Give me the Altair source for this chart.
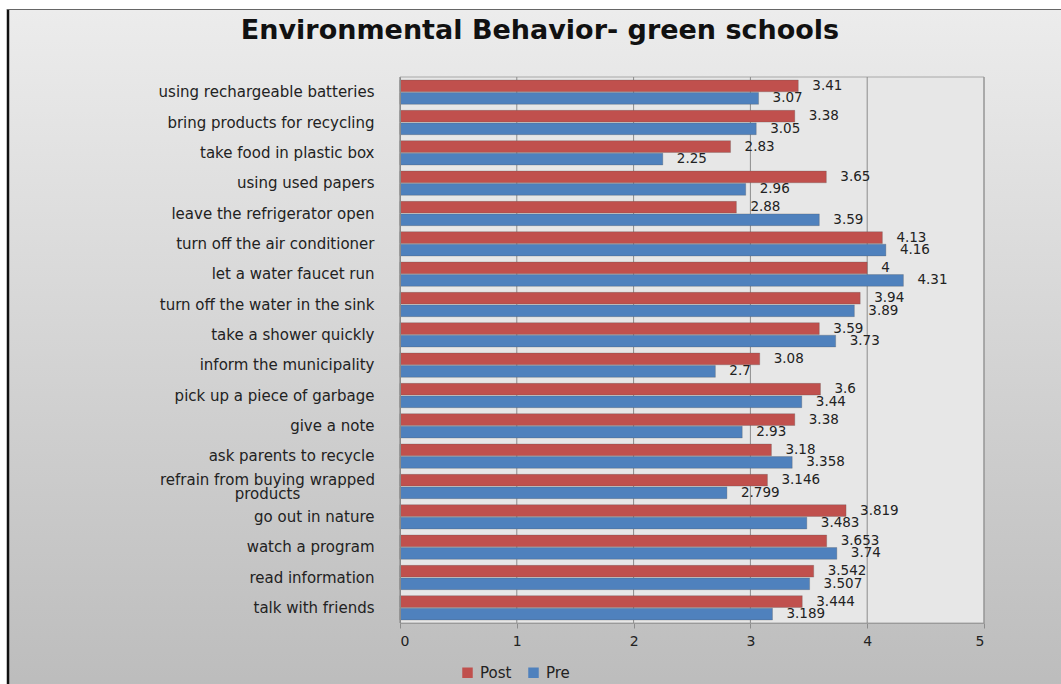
import altair as alt
import pandas as pd

categories = [
    "using rechargeable batteries",
    "bring products for recycling",
    "take food in plastic box",
    "using used papers",
    "leave the refrigerator open",
    "turn off the air conditioner",
    "let a water faucet run",
    "turn off the water in the sink",
    "take a shower quickly",
    "inform the municipality",
    "pick up a piece of garbage",
    "give a note",
    "ask parents to recycle",
    "refrain from buying wrapped products",
    "go out in nature",
    "watch a program",
    "read information",
    "talk with friends",
]
post = [3.41, 3.38, 2.83, 3.65, 2.88, 4.13, 4, 3.94, 3.59, 3.08, 3.6, 3.38, 3.18, 3.146, 3.819, 3.653, 3.542, 3.444]
pre = [3.07, 3.05, 2.25, 2.96, 3.59, 4.16, 4.31, 3.89, 3.73, 2.7, 3.44, 2.93, 3.358, 2.799, 3.483, 3.74, 3.507, 3.189]
series = ["Post", "Pre"]
colors = ["#C0504D", "#4F81BD"]
x_ticks = [0, 1, 2, 3, 4, 5]
title_text = "Environmental Behavior- green schools"

rows = []
for c, p, q in zip(categories, post, pre):
    rows.append({"cat": c, "series": "Post", "value": p})
    rows.append({"cat": c, "series": "Pre", "value": q})
df = pd.DataFrame(rows)
ticks_df = pd.DataFrame({"tick": x_ticks})
title_df = pd.DataFrame({"t": [title_text]})
one = pd.DataFrame({"k": [0]})

W, H = 584, 546
PL, PT = 400, 77
FONT = "DejaVu Sans"
WRAP = "refrain from buying wrapped products"
IS_WRAP = f"datum.value == '{WRAP}'"

y_enc = alt.Y(
    "cat:N",
    sort=categories,
    scale=alt.Scale(paddingInner=0.2, paddingOuter=0.1),
    axis=alt.Axis(
        title=None,
        ticks=False,
        labelPadding={"condition": {"test": IS_WRAP, "value": 133}, "value": 26},
        labelAlign={"condition": {"test": IS_WRAP, "value": "center"}, "value": "right"},
        labelFontSize=15,
        labelFont=FONT,
        labelColor="#222222",
        domainColor="#8a8a8a",
        labelLimit=400,
        labelLineHeight=14,
        labelOffset={"condition": {"test": IS_WRAP, "value": -7}, "value": 0},
        labelExpr=f"{IS_WRAP} ? ['refrain from buying wrapped', 'products'] : datum.value",
        zindex=2,
    ),
)
yoff_enc = alt.YOffset("series:N", sort=series, scale=alt.Scale(paddingInner=0.06))
x_scale = alt.Scale(domain=[0, 5], nice=False)
x_enc = alt.X(
    "value:Q",
    scale=x_scale,
    axis=alt.Axis(
        title=None,
        values=x_ticks,
        format="d",
        grid=False,
        tickColor="#8c8c8c",
        tickSize=5,
        domainColor="#9a9a9a",
        labelFontSize=14,
        labelFont=FONT,
        labelColor="#222222",
        labelPadding=6,
        zindex=2,
    ),
)
color_enc = alt.Color(
    "series:N",
    sort=series,
    scale=alt.Scale(domain=series, range=colors),
    legend=alt.Legend(
        title=None,
        orient="none",
        direction="horizontal",
        legendX=60,
        legendY=588,
        symbolType="square",
        symbolSize=110,
        symbolStrokeWidth=0,
        labelFontSize=15,
        labelFont=FONT,
        labelColor="#222222",
        columnPadding=14,
        labelOffset=5,
        zindex=2,
    ),
)

# chart-area background with gradient and border
bg = alt.Chart(one).mark_rect(
    color=alt.Gradient(
        gradient="linear",
        stops=[alt.GradientStop(color="#ececec", offset=0), alt.GradientStop(color="#bcbcbc", offset=1)],
        x1=0, x2=0, y1=0, y2=1,
    ),
).encode(
    x=alt.value(-PL + 8), x2=alt.value(W + 100), y=alt.value(-PT + 10), y2=alt.value(H + 70)
)
border_left = alt.Chart(one).mark_rule(color="#111111", strokeWidth=2.5).encode(
    x=alt.value(-PL + 8), y=alt.value(-PT + 9), y2=alt.value(H + 70)
)
border_top = alt.Chart(one).mark_rule(color="#666666", strokeWidth=1.2).encode(
    x=alt.value(-PL + 7), x2=alt.value(W + 100), y=alt.value(-PT + 9.5)
)
plot_bg = alt.Chart(one).mark_rect(color="#e7e7e7", stroke="#a8a8a8", strokeWidth=1).encode(
    x=alt.value(0), x2=alt.value(W), y=alt.value(0), y2=alt.value(H)
)
grid = alt.Chart(ticks_df).mark_rule(color="#8c8c8c", strokeWidth=1).encode(
    x=alt.X("tick:Q", scale=x_scale), y=alt.value(0), y2=alt.value(H)
)
title = alt.Chart(title_df).mark_text(
    font=FONT, fontSize=27, fontWeight="bold", color="#111111", align="center", baseline="middle"
).encode(x=alt.value(540 - PL), y=alt.value(31 - PT), text="t:N")

base = alt.Chart(df)
bars = base.mark_bar(stroke="#555555", strokeOpacity=0.35, strokeWidth=0.8).encode(
    y=y_enc, yOffset=yoff_enc, x=x_enc, color=color_enc
)
labels = base.mark_text(
    align="left", baseline="middle", dx=14, fontSize=13.5, font=FONT, color="#222222"
).encode(y=y_enc, yOffset=yoff_enc, x=x_enc, text=alt.Text("value:Q"))

chart = alt.layer(bg, border_left, border_top, plot_bg, grid, title, bars, labels).properties(
    width=W,
    height=H,
    padding={"left": PL, "top": PT, "right": 1061 - PL - W, "bottom": 684 - PT - H},
    autosize=alt.AutoSizeParams(type="none"),
    background="white",
).configure_view(stroke=None)

chart.save("out.html", embed_options={"renderer": "svg", "actions": False})
